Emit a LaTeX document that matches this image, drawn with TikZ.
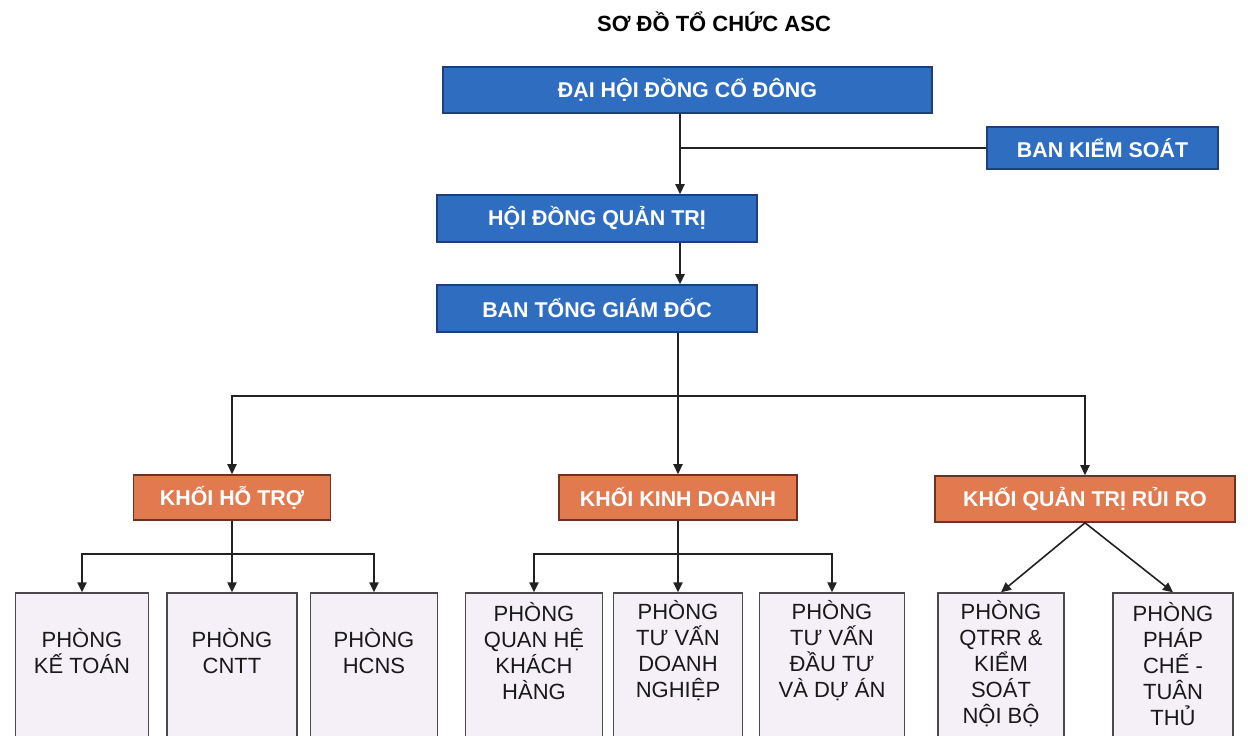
\documentclass[tikz,border=0pt]{standalone}
\usepackage{fontspec}
\setmainfont{Liberation Sans}
\usepackage{tikz}
\usetikzlibrary{arrows.meta,positioning,calc}
\definecolor{DeepBlue}{HTML}{1F3F78}
\definecolor{MidBlue}{HTML}{2F6DC0}
\definecolor{DeepOrange}{HTML}{6B3422}
\definecolor{MidOrange}{HTML}{E27A50}
\definecolor{SoftLilac}{HTML}{F5EFF8}
\definecolor{DeepGray}{HTML}{4A4A4A}
\definecolor{LineGray}{HTML}{222222}
\tikzset{
  bluebox/.style={draw=DeepBlue,fill=MidBlue,text=white,line width=0.8pt,
              font=\bfseries\fontsize{10.7}{12}\selectfont,inner sep=2pt},
  orangebox/.style={draw=DeepOrange,fill=MidOrange,text=white,line width=0.8pt,
              font=\bfseries\fontsize{10.7}{12}\selectfont,inner sep=2pt,
              minimum height=22.5pt},
  phongbox/.style={draw=DeepGray,fill=SoftLilac,line width=0.7pt,
              minimum height=83.5pt,inner sep=0pt},
  phongtext/.style={align=center,font=\fontsize{11}{13}\selectfont,text=black!90},
  link/.style={draw=LineGray,line width=0.8pt},
  flow/.style={-{Triangle[length=5pt,width=4.6pt]},line width=0.8pt,draw=LineGray},
  titletext/.style={font=\bfseries\fontsize{11}{13}\selectfont}
}
\begin{document}
\begin{tikzpicture}[x=0.5pt,y=-0.5pt]
  \useasboundingbox (0,0) rectangle (1248,735);
  \fill[white] (0,0) rectangle (1248,735);

  \node[titletext] (title) at (714,22) {SƠ ĐỒ TỔ CHỨC ASC};

  % top levels
  \node[bluebox,minimum width=244.5pt,minimum height=23pt] (dhdcd) at (687.5,90) {ĐẠI HỘI ĐỒNG CỔ ĐÔNG};
  \node[bluebox,minimum width=115.5pt,minimum height=21pt] (bks) at (1102.5,148) {BAN KIỂM SOÁT};
  \node[bluebox,minimum width=160pt,minimum height=23.5pt] (hdqt) at (597,218.5) {HỘI ĐỒNG QUẢN TRỊ};
  \node[bluebox,minimum width=160pt,minimum height=23.5pt] (btgd) at (597,308.5) {BAN TỔNG GIÁM ĐỐC};
  \coordinate (trunk) at (678,396);

  % khoi
  \node[orangebox,minimum width=98.5pt] (khoiht) at (232,497.5) {KHỐI HỖ TRỢ};
  \node[orangebox,minimum width=119pt] (khoikd) at (678,497.5) {KHỐI KINH DOANH};
  \node[orangebox,minimum width=150pt,minimum height=23pt] (khoirr) at (1085,499) {KHỐI QUẢN TRỊ RỦI RO};

  % phong
  \node[phongbox,minimum width=66.5pt] (pkt) at (82,676.5) {};
  \node[phongbox,minimum width=65pt] (pcntt) at (232,676.5) {};
  \node[phongbox,minimum width=63.5pt] (phcns) at (374,676.5) {};
  \node[phongbox,minimum width=68.5pt] (pqhkh) at (534,676.5) {};
  \node[phongbox,minimum width=64.5pt] (ptvdn) at (678,676.5) {};
  \node[phongbox,minimum width=72.5pt] (ptvdt) at (832,676.5) {};
  \node[phongbox,minimum width=63pt] (pqtrr) at (1001,676.5) {};
  \node[phongbox,minimum width=60pt] (ppc) at (1173,676.5) {};

  \node[phongtext] (tkt) at (pkt |- 0,651) {PHÒNG\\KẾ TOÁN};
  \node[phongtext] (tcntt) at (pcntt |- 0,651) {PHÒNG\\CNTT};
  \node[phongtext] (thcns) at (phcns |- 0,651) {PHÒNG\\HCNS};
  \node[phongtext] (tqhkh) at (pqhkh |- 0,651) {PHÒNG\\QUAN HỆ\\KHÁCH\\HÀNG};
  \node[phongtext] (ttvdn) at (ptvdn |- 0,651) {PHÒNG\\TƯ VẤN\\DOANH\\NGHIỆP};
  \node[phongtext] (ttvdt) at (ptvdt |- 0,651) {PHÒNG\\TƯ VẤN\\ĐẦU TƯ\\VÀ DỰ ÁN};
  \node[phongtext] (tqtrr) at (pqtrr |- 0,664) {PHÒNG\\QTRR \&\\KIỂM\\SOÁT\\NỘI BỘ};
  \node[phongtext] (tpc) at (ppc |- 0,664) {PHÒNG\\PHÁP\\CHẾ -\\TUÂN\\THỦ};

  % connectors
  \draw[flow] (dhdcd.south -| 680,0) -- (hdqt.north -| 680,0);
  \draw[link] (bks.west) -- (bks.west -| 680,0);
  \draw[flow] (hdqt.south -| 680,0) -- (btgd.north -| 680,0);
  \draw[link] (btgd.south -| trunk) -- (trunk);
  \draw[flow] (trunk) -| (khoiht);
  \draw[flow] (trunk) -- (khoikd);
  \draw[flow] (trunk) -| (khoirr);
  \foreach \p in {pkt,pcntt,phcns}
    \draw[flow] (khoiht.south) -- ++(0,33) -| (\p);
  \foreach \p in {pqhkh,ptvdn,ptvdt}
    \draw[flow] (khoikd.south) -- ++(0,33) -| (\p);
  \draw[flow] (khoirr.south) -- (pqtrr.north);
  \draw[flow] (khoirr.south) -- (ppc.north);
\end{tikzpicture}
\end{document}
